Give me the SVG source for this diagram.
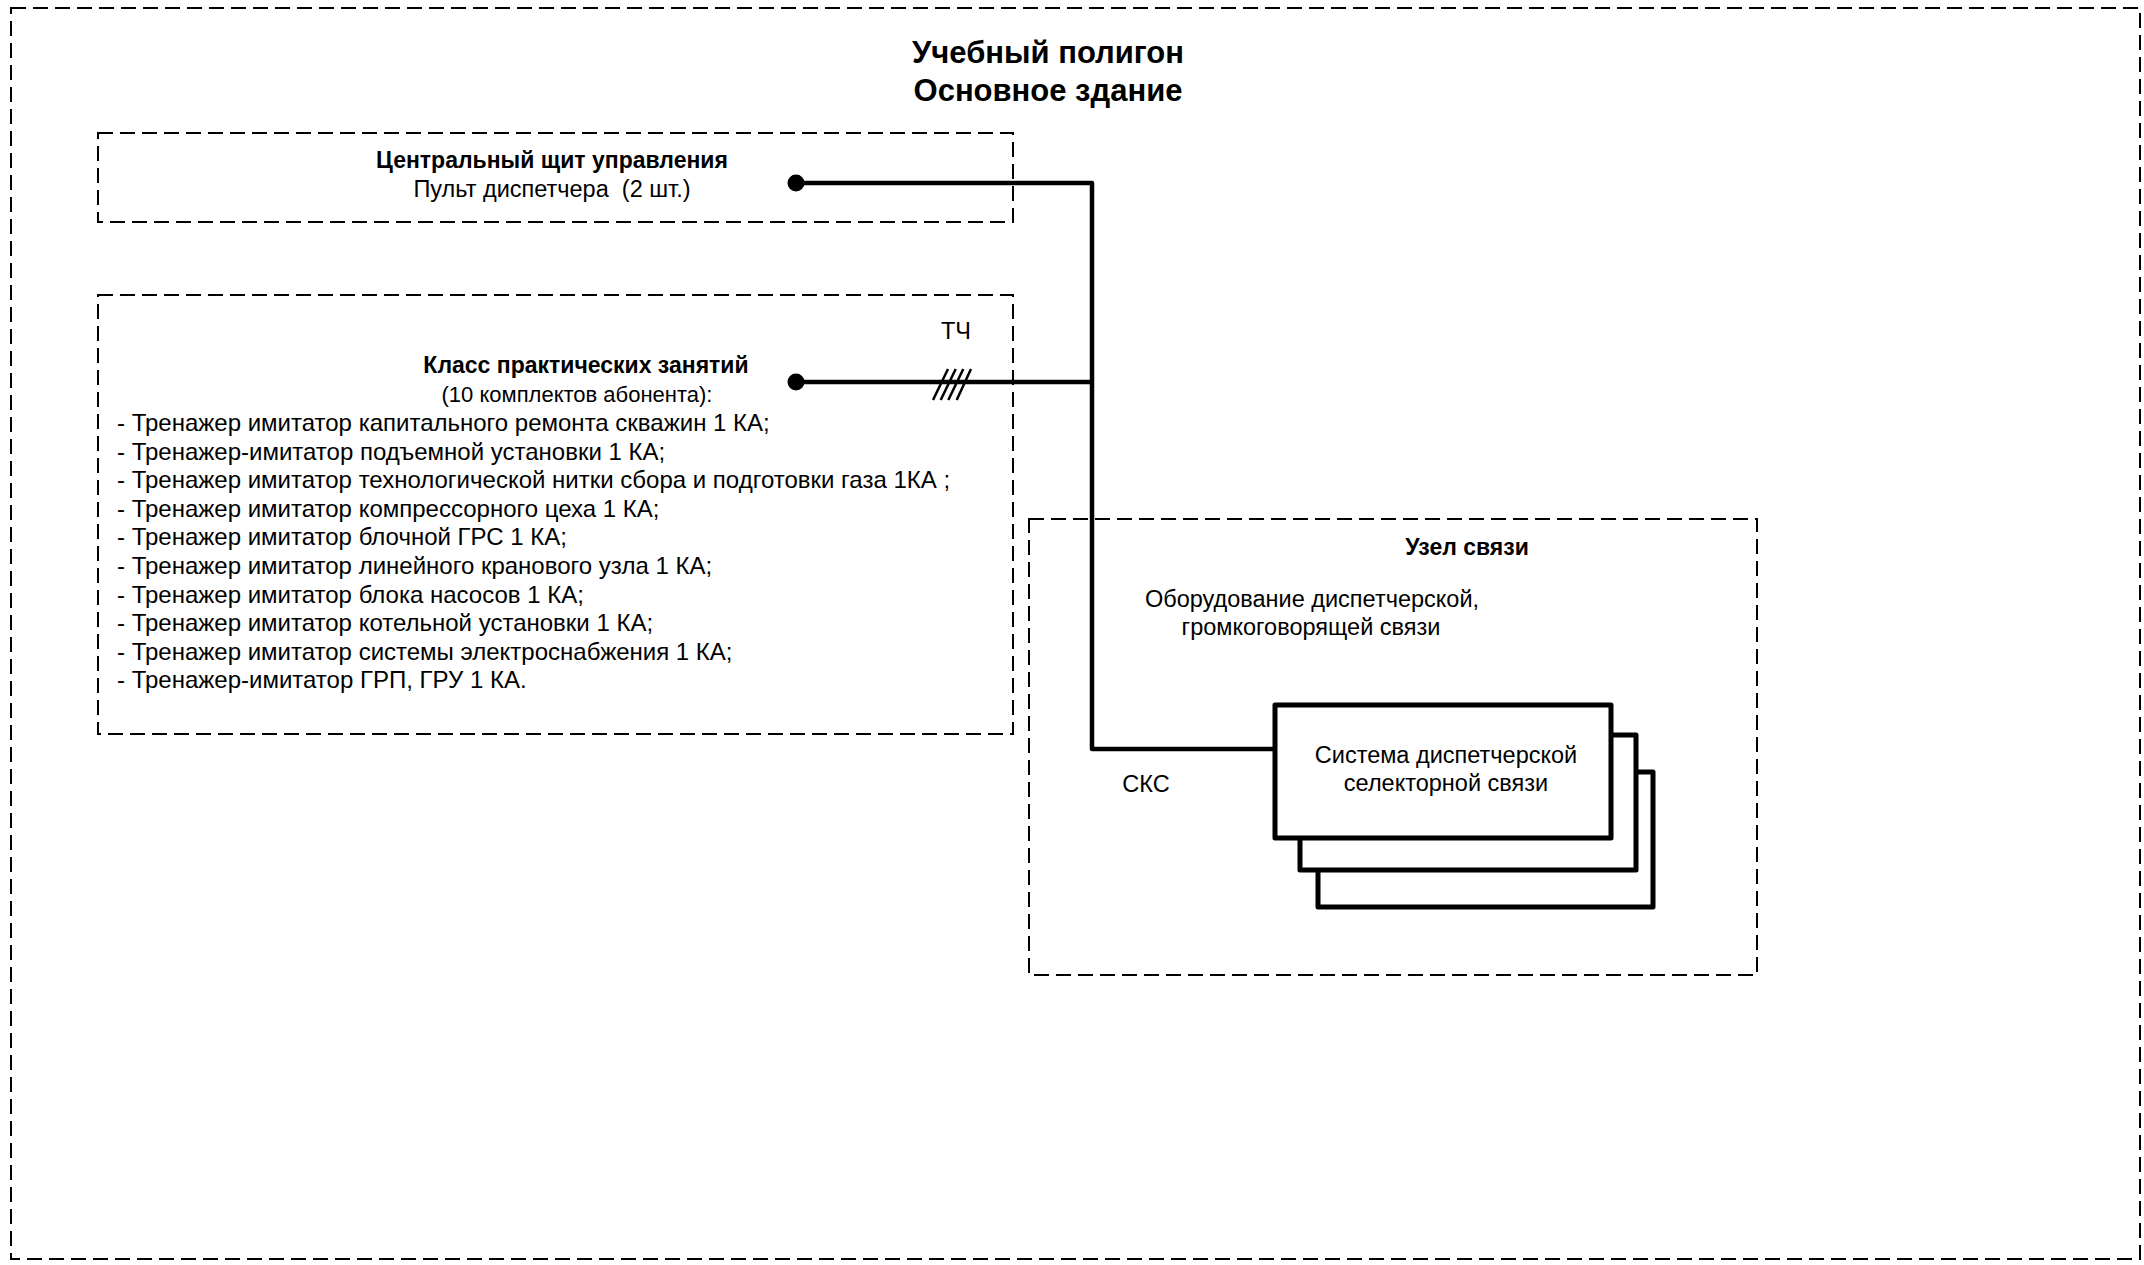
<svg xmlns="http://www.w3.org/2000/svg" width="2144" height="1265" viewBox="0 0 2144 1265">
<style>
.dash{fill:none;stroke:#000;stroke-width:2;stroke-dasharray:15 7}
.box{fill:#fff;stroke:#000;stroke-width:5;stroke-linejoin:round}
.wire{fill:none;stroke:#000;stroke-width:4.5;stroke-linejoin:round}
.t{font-family:"Liberation Sans",Arial,sans-serif;font-size:23.5px;fill:#000}
.l{font-size:24px}
.s{font-size:22px}
.b{font-weight:bold;font-size:23px}
.h{font-size:31px}
.m{text-anchor:middle}
</style>
<rect width="2144" height="1265" fill="#fff"/>
<g id="polygon">
<rect class="dash" x="11" y="8" width="2129" height="1251"/>
<text class="t b h m" x="1048" y="63">Учебный полигон</text>
<text class="t b h m" x="1048" y="101">Основное здание</text>
</g>
<g id="cshu">
<rect class="dash" x="98" y="133" width="915" height="89"/>
<text class="t b m" x="552" y="168">Центральный щит управления</text>
<text class="t m" x="552" y="197" xml:space="preserve">Пульт диспетчера  (2 шт.)</text>
</g>
<g id="klass">
<rect class="dash" x="98" y="295" width="915" height="439"/>
<text class="t b m" x="586" y="373">Класс практических занятий</text>
<text class="t s m" x="577" y="402">(10 комплектов абонента):</text>
<text class="t l" x="117" y="431">- Тренажер имитатор капитального ремонта скважин 1 КА;</text>
<text class="t l" x="117" y="459.6">- Тренажер-имитатор подъемной установки 1 КА;</text>
<text class="t l" x="117" y="488.2">- Тренажер имитатор технологической нитки сбора и подготовки газа 1КА ;</text>
<text class="t l" x="117" y="516.8">- Тренажер имитатор компрессорного цеха 1 КА;</text>
<text class="t l" x="117" y="545.4">- Тренажер имитатор блочной ГРС 1 КА;</text>
<text class="t l" x="117" y="574">- Тренажер имитатор линейного кранового узла 1 КА;</text>
<text class="t l" x="117" y="602.6">- Тренажер имитатор блока насосов 1 КА;</text>
<text class="t l" x="117" y="631.2">- Тренажер имитатор котельной установки 1 КА;</text>
<text class="t l" x="117" y="659.8">- Тренажер имитатор системы электроснабжения 1 КА;</text>
<text class="t l" x="117" y="688.4">- Тренажер-имитатор ГРП, ГРУ 1 КА.</text>
</g>
<g id="uzel">
<rect class="dash" x="1029" y="519" width="728" height="456"/>
<text class="t b m" x="1467" y="555">Узел связи</text>
<text class="t m" x="1312" y="607">Оборудование диспетчерской,</text>
<text class="t m" x="1311" y="635">громкоговорящей связи</text>
</g>
<g id="sdss">
<rect class="box" x="1318" y="772" width="335" height="135"/>
<rect class="box" x="1300" y="735" width="336" height="135"/>
<rect class="box" x="1275" y="705" width="336" height="133"/>
<text class="t m" x="1446" y="763">Система диспетчерской</text>
<text class="t m" x="1446" y="791">селекторной связи</text>
</g>
<g id="connectors">
<path class="wire" d="M796 183 H1092 V749 H1273"/>
<path class="wire" d="M796 382 H1092"/>
<circle cx="796" cy="183" r="8.5" fill="#000"/>
<circle cx="796" cy="382" r="8.5" fill="#000"/>
<g stroke="#000" stroke-width="2.5">
<line x1="948" y1="369" x2="933" y2="400"/>
<line x1="955.7" y1="369" x2="940.7" y2="400"/>
<line x1="963.3" y1="369" x2="948.3" y2="400"/>
<line x1="971" y1="369" x2="956.7" y2="400"/>
</g>
<text class="t m" x="956" y="339">ТЧ</text>
<text class="t m" x="1146" y="792">СКС</text>
</g>
</svg>
